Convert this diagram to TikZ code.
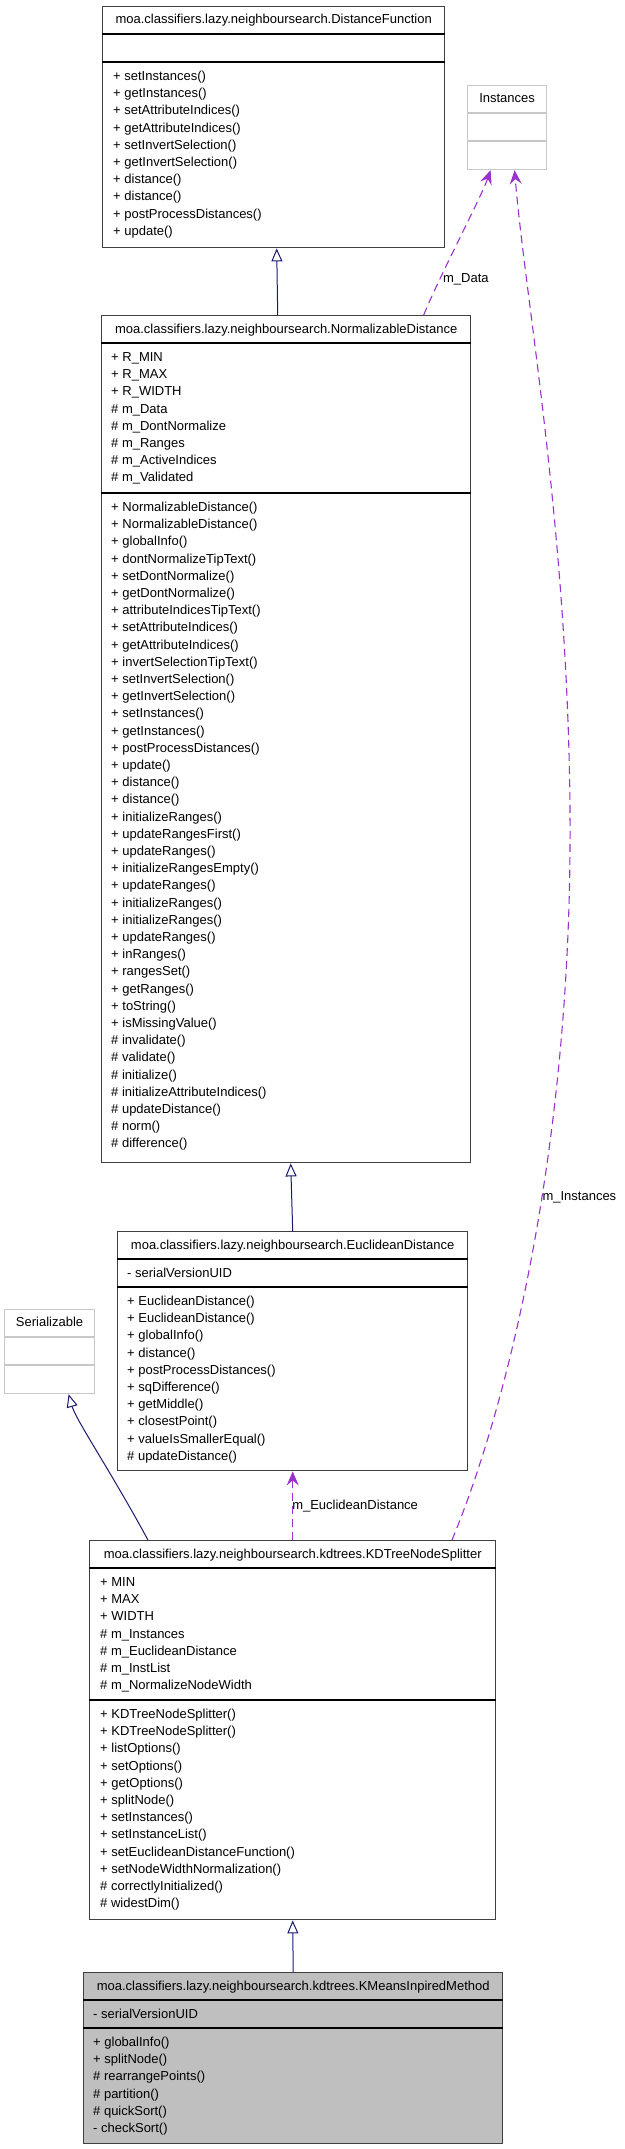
\documentclass[tikz,border=0pt]{standalone}
\usepackage{fontspec}
\setmainfont{Liberation Sans}
\usetikzlibrary{calc,arrows.meta,positioning}
\definecolor{extgrey}{RGB}{200,200,200}
\definecolor{curgrey}{RGB}{191,191,191}
\definecolor{inhblue}{RGB}{25,25,112}
\definecolor{assocpurple}{RGB}{154,50,205}
\tikzset{
  umlbox/.style={rectangle, draw=black!75, line width=1.4pt, anchor=north west, inner sep=0pt},
  extbox/.style={umlbox, draw=extgrey, line width=1.2pt},
  curbox/.style={umlbox, fill=curgrey},
  umlsep/.style={black, line width=1.2pt},
  extsep/.style={extgrey, line width=1.2pt},
  umltitle/.style={font=\fontsize{13}{17.2}\selectfont, inner sep=0pt, anchor=base},
  member/.style={font=\fontsize{13}{17.2}\selectfont, inner sep=0pt, anchor=base west},
  assoclabel/.style={font=\fontsize{13}{17.2}\selectfont, text=black, inner sep=0pt, anchor=west},
  inherit/.style={-{Triangle[open, length=13pt, width=11pt]}, inhblue, line width=1pt},
  assoc/.style={-{Stealth[length=14pt, width=12pt, inset=5pt]}, assocpurple, line width=1.1pt,
                dash pattern=on 8pt off 5pt},
}
\begin{document}
\begin{tikzpicture}[x=1pt, y=-1pt]
\useasboundingbox (0,0) rectangle (624,2149);

% DistanceFunction
\node[umlbox, minimum width=342pt, minimum height=241pt] (distfn) at (102,6) {};
\node[umltitle] (distfn-t) at ($(distfn.north)+(0,18)$) {moa.classifiers.lazy.neighboursearch.DistanceFunction};
\draw[umlsep] ($(distfn.north west)+(0,28)$) -- ($(distfn.north east)+(0,28)$);
\draw[umlsep] ($(distfn.north west)+(0,56)$) -- ($(distfn.north east)+(0,56)$);
\foreach \m [count=\i from 0] in {+ setInstances(), + getInstances(), + setAttributeIndices(),
    + getAttributeIndices(), + setInvertSelection(), + getInvertSelection(), + distance(),
    + distance(), + postProcessDistances(), + update()}
  \node[member] (distfn-m\i) at ($(distfn.north west)+(11,74.5+17.2*\i)$) {\m};

% Instances
\node[extbox, minimum width=79pt, minimum height=84pt] (inst) at (467,85) {};
\node[umltitle] (inst-t) at ($(inst.north)+(0,17.5)$) {Instances};
\draw[extsep] ($(inst.north west)+(0,28)$) -- ($(inst.north east)+(0,28)$);
\draw[extsep] ($(inst.north west)+(0,56)$) -- ($(inst.north east)+(0,56)$);

% NormalizableDistance
\node[umlbox, minimum width=369pt, minimum height=847pt] (normdist) at (101,315) {};
\node[umltitle] (normdist-t) at ($(normdist.north)+(0,18)$) {moa.classifiers.lazy.neighboursearch.NormalizableDistance};
\draw[umlsep] ($(normdist.north west)+(0,28)$) -- ($(normdist.north east)+(0,28)$);
\draw[umlsep] ($(normdist.north west)+(0,178)$) -- ($(normdist.north east)+(0,178)$);
\foreach \m [count=\i from 0] in {+ R\_MIN, + R\_MAX, + R\_WIDTH, \# m\_Data, \# m\_DontNormalize,
    \# m\_Ranges, \# m\_ActiveIndices, \# m\_Validated}
  \node[member] (normdist-a\i) at ($(normdist.north west)+(10,46.5+17.2*\i)$) {\m};
\foreach \m [count=\i from 0] in {+ NormalizableDistance(), + NormalizableDistance(), + globalInfo(),
    + dontNormalizeTipText(), + setDontNormalize(), + getDontNormalize(), + attributeIndicesTipText(),
    + setAttributeIndices(), + getAttributeIndices(), + invertSelectionTipText(),
    + setInvertSelection(), + getInvertSelection(), + setInstances(), + getInstances(),
    + postProcessDistances(), + update(), + distance(), + distance(), + initializeRanges(),
    + updateRangesFirst(), + updateRanges(), + initializeRangesEmpty(), + updateRanges(),
    + initializeRanges(), + initializeRanges(), + updateRanges(), + inRanges(), + rangesSet(),
    + getRanges(), + toString(), + isMissingValue(), \# invalidate(), \# validate(),
    \# initialize(), \# initializeAttributeIndices(), \# updateDistance(), \# norm(),
    \# difference()}
  \node[member] (normdist-m\i) at ($(normdist.north west)+(10,196.5+17.2*\i)$) {\m};

% EuclideanDistance
\node[umlbox, minimum width=350pt, minimum height=239pt] (eucl) at (117,1231) {};
\node[umltitle] (eucl-t) at ($(eucl.north)+(0,18)$) {moa.classifiers.lazy.neighboursearch.EuclideanDistance};
\draw[umlsep] ($(eucl.north west)+(0,28)$) -- ($(eucl.north east)+(0,28)$);
\draw[umlsep] ($(eucl.north west)+(0,56)$) -- ($(eucl.north east)+(0,56)$);
\node[member] (eucl-a0) at ($(eucl.north west)+(10,46.5)$) {- serialVersionUID};
\foreach \m [count=\i from 0] in {+ EuclideanDistance(), + EuclideanDistance(), + globalInfo(),
    + distance(), + postProcessDistances(), + sqDifference(), + getMiddle(), + closestPoint(),
    + valueIsSmallerEqual(), \# updateDistance()}
  \node[member] (eucl-m\i) at ($(eucl.north west)+(10,74.5+17.2*\i)$) {\m};

% Serializable
\node[extbox, minimum width=90pt, minimum height=84pt] (serial) at (4,1309) {};
\node[umltitle] (serial-t) at ($(serial.north)+(0,17.5)$) {Serializable};
\draw[extsep] ($(serial.north west)+(0,28)$) -- ($(serial.north east)+(0,28)$);
\draw[extsep] ($(serial.north west)+(0,56)$) -- ($(serial.north east)+(0,56)$);

% KDTreeNodeSplitter
\node[umlbox, minimum width=406pt, minimum height=379pt] (kdtree) at (89,1540) {};
\node[umltitle] (kdtree-t) at ($(kdtree.north)+(0,18)$) {moa.classifiers.lazy.neighboursearch.kdtrees.KDTreeNodeSplitter};
\draw[umlsep] ($(kdtree.north west)+(0,28)$) -- ($(kdtree.north east)+(0,28)$);
\draw[umlsep] ($(kdtree.north west)+(0,160)$) -- ($(kdtree.north east)+(0,160)$);
\foreach \m [count=\i from 0] in {+ MIN, + MAX, + WIDTH, \# m\_Instances, \# m\_EuclideanDistance,
    \# m\_InstList, \# m\_NormalizeNodeWidth}
  \node[member] (kdtree-a\i) at ($(kdtree.north west)+(11,46.5+17.2*\i)$) {\m};
\foreach \m [count=\i from 0] in {+ KDTreeNodeSplitter(), + KDTreeNodeSplitter(), + listOptions(),
    + setOptions(), + getOptions(), + splitNode(), + setInstances(), + setInstanceList(),
    + setEuclideanDistanceFunction(), + setNodeWidthNormalization(),
    \# correctlyInitialized(), \# widestDim()}
  \node[member] (kdtree-m\i) at ($(kdtree.north west)+(11,178.5+17.2*\i)$) {\m};

% KMeansInpiredMethod
\node[curbox, minimum width=419pt, minimum height=171pt] (kmeans) at (83,1972) {};
\node[umltitle] (kmeans-t) at ($(kmeans.north)+(0,18)$) {moa.classifiers.lazy.neighboursearch.kdtrees.KMeansInpiredMethod};
\draw[umlsep] ($(kmeans.north west)+(0,28)$) -- ($(kmeans.north east)+(0,28)$);
\draw[umlsep] ($(kmeans.north west)+(0,56)$) -- ($(kmeans.north east)+(0,56)$);
\node[member] (kmeans-a0) at ($(kmeans.north west)+(10,46.5)$) {- serialVersionUID};
\foreach \m [count=\i from 0] in {+ globalInfo(), + splitNode(), \# rearrangePoints(),
    \# partition(), \# quickSort(), - checkSort()}
  \node[member] (kmeans-m\i) at ($(kmeans.north west)+(10,74.5+17.2*\i)$) {\m};

% inheritance
\draw[inherit] ($(normdist.north)+(-8.5,0)$) -- ($(distfn.south)+(3,0)$);
\draw[inherit] (eucl.north) -- ($(normdist.south)+(4.5,0)$);
\draw[inherit] ($(kdtree.north west)+(59,0)$) .. controls (110,1470) and (76,1420) .. ($(serial.south)+(19,0)$);
\draw[inherit] (kmeans.north) -- (kdtree.south);

% associations
\draw[assoc] ($(normdist.north)+(137.5,0)$) .. controls (440,275) and (480,200) ..
  node[assoclabel, pos=0.25, xshift=3pt] (ldata) {m\_Data} ($(inst.south)+(-16.5,0)$);
\draw[assoc] (kdtree.north) -- node[assoclabel, pos=0.5, xshift=-1pt] (leucl) {m\_EuclideanDistance} (eucl.south);
\draw[assoc] ($(kdtree.north west)+(363,0)$) .. controls (510,1400) and (568,1150) .. (570,850)
  node[assoclabel, pos=0.58] (linst) {m\_Instances}
  .. controls (572,550) and (525,300) .. ($(inst.south)+(7.5,0)$);
\end{tikzpicture}
\end{document}
